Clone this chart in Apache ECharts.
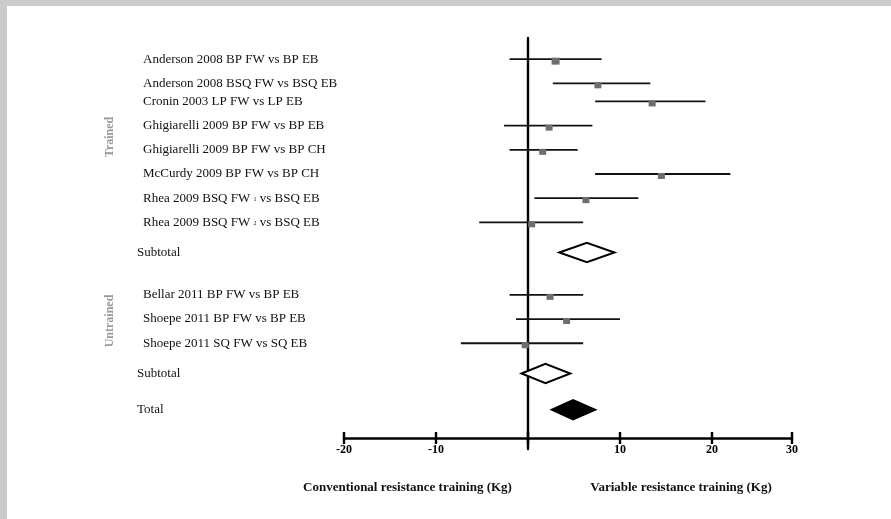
<!DOCTYPE html>
<html>
<head>
<meta charset="utf-8">
<script src="https://cdn.jsdelivr.net/npm/echarts@6/dist/echarts.min.js"></script>
<style>
  html, body { margin: 0; padding: 0; background: #ffffff; }
  #chart { width: 891px; height: 519px; }
</style>
</head>
<body>
<div id="chart"></div>
<script>
// ---- data: mean difference (kg) with 95% CI ----
const studyLabels = [
  'Anderson 2008 BP FW vs BP EB',
  'Anderson 2008 BSQ FW vs BSQ EB',
  'Cronin 2003 LP FW vs LP EB',
  'Ghigiarelli 2009 BP FW vs BP EB',
  'Ghigiarelli 2009 BP FW vs BP CH',
  'McCurdy 2009 BP FW vs BP CH',
  'Rhea 2009 BSQ FW 1 vs BSQ EB',
  'Rhea 2009 BSQ FW 2 vs BSQ EB',
  'Bellar 2011 BP FW vs BP EB',
  'Shoepe 2011 BP FW vs BP EB',
  'Shoepe 2011 SQ FW vs SQ EB'
];
const studyEstimate = [3.0, 7.6, 13.5, 2.3, 1.6, 14.5, 6.3, 0.4, 2.4, 4.2, -0.3];
const studyLower    = [-2.0, 2.7, 7.3, -2.6, -2.0, 7.3, 0.7, -5.3, -2.0, -1.3, -7.3];
const studyUpper    = [8.0, 13.3, 19.3, 7.0, 5.4, 22.0, 12.0, 6.0, 6.0, 10.0, 6.0];

const pooledLabels   = ['Subtotal', 'Subtotal', 'Total'];
const pooledEstimate = [6.4, 1.9, 4.9];
const pooledLower    = [3.4, -0.7, 2.6];
const pooledUpper    = [9.4, 4.6, 7.3];
const pooledFilled   = [false, false, true];

const groupNames = ['Trained', 'Untrained'];

const xTickLabels = ['-20', '-10', '', '10', '20', '30'];
const xTitles = ['Conventional resistance training (Kg)', 'Variable resistance training (Kg)'];

// ---- layout: the plot is split into thin vertical slots; each row sits in one ----
const SLOTS = 68;
const studySlot  = [3, 7, 10, 14, 18, 22, 26, 30, 42, 46, 50];
const pooledSlot = [35, 55, 61];
const AXIS_END = 28.7;   // the drawn axis stops here; its end tick carries the last label
const SERIF = '"Liberation Serif", "Times New Roman", serif';

// slot category list with row labels
const slotLabels = new Array(SLOTS).fill('');
studySlot.forEach((s, i) => { slotLabels[s] = studyLabels[i]; });
pooledSlot.forEach((s, i) => { slotLabels[s] = pooledLabels[i]; });
const pooledSet = new Set(pooledSlot);

const whiskerData = studyLower.map((lo, i) => [lo, studyUpper[i], studySlot[i]]);
const squareData = studyEstimate.map((v, i) => ({
  value: [v, studySlot[i]],
  symbolSize: i === 0 ? [8, 7] : [7, 6]
}));
const diamondData = pooledEstimate.map((v, i) => ({
  value: [pooledLower[i], v, pooledUpper[i], pooledSlot[i]],
  filled: pooledFilled[i]
}));

const xTickValues = [-20, -10, 0, 10, 20, AXIS_END];
function tickText(value) {
  const k = xTickValues.findIndex(t => Math.abs(t - value) < 1e-6);
  return k >= 0 ? xTickLabels[k] : '';
}

function rowLabel(text, idx) {
  if (!text) return '';
  if (pooledSet.has(idx)) return '{p|' + text + '}';
  const m = text.match(/^(.* FW) (\d) (vs .*)$/);
  if (m) return '{s|' + m[1] + ' }{sub|' + m[2] + '}{t| ' + m[3] + '}';
  return '{s|' + text + '}';
}

const chart = echarts.init(document.getElementById('chart'));

const baseX = {
  type: 'value',
  min: -20,
  max: AXIS_END,
  interval: 10,
  position: 'bottom',
  offset: -11,
  splitLine: { show: false }
};

chart.setOption({
  animation: false,
  backgroundColor: '#ffffff',
  grid: { left: 344, right: 891 - 792, top: 38, bottom: 70, containLabel: false },
  xAxis: [
    Object.assign({}, baseX, {
      axisLine: { show: true, onZero: false, lineStyle: { color: '#000', width: 2.6 } },
      axisTick: { show: true, inside: false, length: 6, lineStyle: { color: '#000', width: 2.4 } },
      axisLabel: {
        margin: 6,
        color: '#000',
        fontFamily: SERIF,
        fontWeight: 'bold',
        fontSize: 12,
        formatter: tickText
      }
    }),
    Object.assign({}, baseX, {
      axisLine: { show: false, onZero: false },
      axisTick: { show: true, inside: true, length: 6, lineStyle: { color: '#000', width: 2.4 } },
      axisLabel: { show: false }
    })
  ],
  yAxis: [
    {
      // zero line
      type: 'category',
      data: slotLabels,
      inverse: true,
      axisLine: { show: true, onZero: true, onZeroAxisIndex: 0, lineStyle: { color: '#000', width: 2.4 } },
      axisTick: { show: false },
      axisLabel: { show: false },
      splitLine: { show: false }
    },
    {
      // row labels
      type: 'category',
      data: slotLabels,
      inverse: true,
      position: 'left',
      axisLine: { show: false, onZero: false },
      axisTick: { show: false },
      splitLine: { show: false },
      axisLabel: {
        interval: 0,
        margin: 207,
        align: 'left',
        formatter: rowLabel,
        rich: {
          s:   { fontFamily: SERIF, fontSize: 13, color: '#111', padding: [0, 0, 0, 6] },
          t:   { fontFamily: SERIF, fontSize: 13, color: '#111' },
          sub: { fontFamily: SERIF, fontSize: 6, color: '#111', padding: [3, 0, 0, 0] },
          p:   { fontFamily: SERIF, fontSize: 13, color: '#111' }
        }
      }
    }
  ],
  series: [
    {
      type: 'custom',
      name: 'CI',
      xAxisIndex: 0,
      yAxisIndex: 0,
      encode: { x: [0, 1], y: 2 },
      data: whiskerData,
      renderItem: function (params, api) {
        const y = api.value(2);
        const a = api.coord([api.value(0), y]);
        const b = api.coord([api.value(1), y]);
        return {
          type: 'line',
          shape: { x1: a[0], y1: a[1], x2: b[0], y2: b[1] },
          style: { stroke: '#111', lineWidth: 1.8 }
        };
      }
    },
    {
      type: 'scatter',
      name: 'Estimate',
      xAxisIndex: 0,
      yAxisIndex: 0,
      symbol: 'rect',
      symbolOffset: [0, 2],
      itemStyle: { color: '#6e6e6e', opacity: 1 },
      data: squareData
    },
    {
      type: 'custom',
      name: 'Pooled',
      xAxisIndex: 0,
      yAxisIndex: 0,
      encode: { x: [0, 1, 2], y: 3 },
      data: diamondData,
      renderItem: function (params, api) {
        const y = api.value(3);
        const lo = api.coord([api.value(0), y]);
        const mid = api.coord([api.value(1), y]);
        const hi = api.coord([api.value(2), y]);
        const h = 9.7;
        const filled = diamondData[params.dataIndex].filled;
        return {
          type: 'polygon',
          shape: { points: [[lo[0], lo[1]], [mid[0], mid[1] - h], [hi[0], hi[1]], [mid[0], mid[1] + h]] },
          style: { fill: filled ? '#000' : '#fff', stroke: '#000', lineWidth: 2 }
        };
      }
    }
  ],
  graphic: [
    { type: 'rect', silent: true, shape: { x: 0, y: 0, width: 891, height: 6 }, style: { fill: '#cbcbcb' } },
    { type: 'rect', silent: true, shape: { x: 0, y: 0, width: 7, height: 519 }, style: { fill: '#cbcbcb' } },
    {
      type: 'text', x: 110, y: 137, rotation: Math.PI / 2,
      style: { text: groupNames[0], fill: '#9a9a9a', font: 'bold 12px ' + SERIF, textAlign: 'center', textVerticalAlign: 'middle' }
    },
    {
      type: 'text', x: 110, y: 321, rotation: Math.PI / 2,
      style: { text: groupNames[1], fill: '#9a9a9a', font: 'bold 12px ' + SERIF, textAlign: 'center', textVerticalAlign: 'middle' }
    },
    {
      type: 'text', x: 407.5, y: 488,
      style: { text: xTitles[0], fill: '#111', font: 'bold 13px ' + SERIF, textAlign: 'center', textVerticalAlign: 'middle' }
    },
    {
      type: 'text', x: 681, y: 488,
      style: { text: xTitles[1], fill: '#111', font: 'bold 13px ' + SERIF, textAlign: 'center', textVerticalAlign: 'middle' }
    }
  ]
});
</script>
</body>
</html>
